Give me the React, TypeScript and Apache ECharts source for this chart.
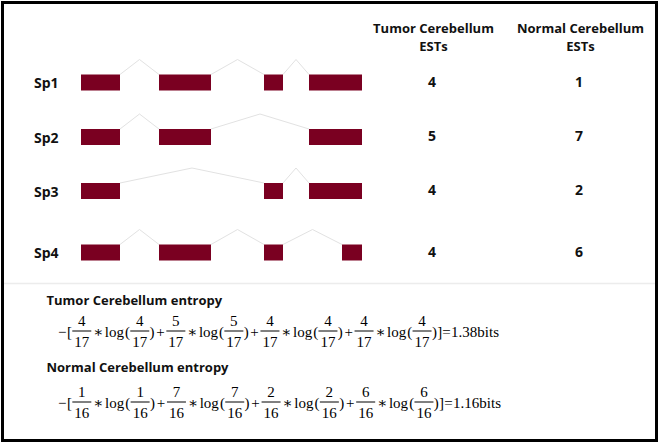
import React, { useEffect, useRef } from "react";
import * as echarts from "echarts";

// ---------- data ----------
const isoforms = ["Sp1", "Sp2", "Sp3", "Sp4"];
const tumorESTs = [4, 5, 4, 4];
const normalESTs = [1, 7, 2, 6];
// exon coordinates (bp) per isoform
const isoformExons: number[][][] = [
  [[0, 390], [780, 1300], [1830, 2020], [2280, 2810]],
  [[0, 390], [780, 1300], [2280, 2810]],
  [[0, 390], [1830, 2020], [2280, 2810]],
  [[0, 390], [780, 1300], [1830, 2020], [2610, 2810]],
];
const geneLength = 2810;
const tumorHeader = ["Tumor Cerebellum", "ESTs"];
const normalHeader = ["Normal Cerebellum", "ESTs"];
const entropyTitles = ["Tumor Cerebellum entropy", "Normal Cerebellum entropy"];

// ---------- layout ----------
const W = 661;
const H = 445;
const ROW_Y = [82.5, 137, 191, 252.5];
const COL_X = [432, 579];
const GENE_LEFT = 81;
const GENE_WIDTH = 281;
const EXON_H = 16;
const PEAK_H = 15;
const EXON_COLOR = "#7a0021";
const INTRON_COLOR = "#e2e2e2";
const SANS = '"Open Sans", "Noto Sans", sans-serif';
const SERIF = '"Liberation Serif", "DejaVu Serif", serif';
const MATH_SIZE = 15;

const measureCtx =
  typeof document !== "undefined"
    ? document.createElement("canvas").getContext("2d")
    : null;
function textW(s: string, font: string) {
  if (!measureCtx) return s.length * 7;
  measureCtx.font = font;
  return measureCtx.measureText(s).width;
}

type Tok = { kind: "t"; s: string } | { kind: "f"; num: string; den: string };

function buildFormula(counts: number[], x0: number, x1: number, barY: number) {
  const total = counts.reduce((a, b) => a + b, 0);
  const ent = -counts.reduce((a, c) => a + (c / total) * Math.log(c / total), 0);
  const font = `${MATH_SIZE}px ${SERIF}`;
  const toks: Tok[] = [{ kind: "t", s: "−" }, { kind: "t", s: "[" }];
  counts.forEach((c, k) => {
    if (k > 0) toks.push({ kind: "t", s: "+" });
    toks.push(
      { kind: "f", num: String(c), den: String(total) },
      { kind: "t", s: "∗" },
      { kind: "t", s: "log" },
      { kind: "t", s: "(" },
      { kind: "f", num: String(c), den: String(total) },
      { kind: "t", s: ")" }
    );
  });
  toks.push({ kind: "t", s: "]" }, { kind: "t", s: "=" }, { kind: "t", s: ent.toFixed(2) + "bits" });

  const widths = toks.map((t) =>
    t.kind === "t" ? textW(t.s, font) : Math.max(textW(t.num, font), textW(t.den, font)) + 4
  );
  const key = (t: Tok) => (t.kind === "t" ? t.s : "#f");
  const gapW = (a: Tok, b: Tok) => {
    const ka = key(a), kb = key(b);
    if (ka === "∗" || kb === "∗" || ka === "+" || kb === "+") return 1;
    if (ka === "log" && kb === "(") return 0.6;
    if (ka === "=" || kb === "=") return 0.15;
    if (ka === "−") return 0.3;
    if (ka === "#f" || kb === "#f") return 0.2;
    if (ka === ")" && kb === "]") return 0.15;
    return 0;
  };
  const gaps: number[] = [];
  for (let i = 0; i < toks.length - 1; i++) gaps.push(gapW(toks[i], toks[i + 1]));
  const natural = widths.reduce((a, b) => a + b, 0);
  const sumG = gaps.reduce((a, b) => a + b, 0);
  const per = Math.max(0, (x1 - x0 - natural) / sumG);

  const els: any[] = [];
  let x = x0;
  toks.forEach((t, i) => {
    const w = widths[i];
    if (t.kind === "t") {
      els.push({
        type: "text",
        style: { text: t.s, x, y: barY + 1, font, fill: "#000", align: "left", verticalAlign: "middle" },
      });
    } else {
      els.push(
        {
          type: "text",
          style: { text: t.num, x: x + w / 2, y: barY - 10, font, fill: "#000", align: "center", verticalAlign: "middle" },
        },
        {
          type: "line",
          shape: { x1: x, y1: barY, x2: x + w, y2: barY },
          style: { stroke: "#000", lineWidth: 1 },
        },
        {
          type: "text",
          style: { text: t.den, x: x + w / 2, y: barY + 11, font, fill: "#000", align: "center", verticalAlign: "middle" },
        }
      );
    }
    x += w + (i < gaps.length ? gaps[i] * per : 0);
  });
  return els;
}

export default function App() {
  const ref = useRef<HTMLDivElement>(null);
  useEffect(() => {
    if (!ref.current) return;
    const chart = echarts.init(ref.current, null, { renderer: "svg" });
    const boldFont = `bold 13px ${SANS}`;
    const rowFont = `bold 14px ${SANS}`;

    const graphics: any[] = [
      {
        type: "rect",
        shape: { x: 2.5, y: 2.5, width: 654, height: 438 },
        style: { fill: "none", stroke: "#000", lineWidth: 3 },
        z: 10,
      },
      {
        type: "line",
        shape: { x1: 4, y1: 283.5, x2: 655, y2: 283.5 },
        style: { stroke: "#ececec", lineWidth: 1.5 },
      },
    ];
    [tumorHeader, normalHeader].forEach((hdr, c) => {
      hdr.forEach((line, k) => {
        graphics.push({
          type: "text",
          style: {
            text: line, x: COL_X[c] + 1.5, y: 28 + k * 18, font: boldFont,
            fill: "#111", align: "center", verticalAlign: "middle",
          },
        });
      });
    });
    const titleY = [300, 367];
    const barY = [331, 402];
    const formulaX = [[58, 499], [58, 501]];
    [tumorESTs, normalESTs].forEach((counts, k) => {
      graphics.push({
        type: "text",
        style: {
          text: entropyTitles[k], x: 46.5, y: titleY[k], font: boldFont, fill: "#111",
          align: "left", verticalAlign: "middle",
        },
      });
      graphics.push(...buildFormula(counts, formulaX[k][0], formulaX[k][1], barY[k]));
    });

    chart.setOption({
      animation: false,
      backgroundColor: "#fff",
      grid: { left: GENE_LEFT, width: GENE_WIDTH, top: 0, height: H },
      xAxis: { type: "value", min: 0, max: geneLength, show: false },
      yAxis: { type: "value", min: 0, max: H, inverse: true, show: false },
      series: [
        {
          type: "custom",
          clip: false,
          data: isoforms.map((_, i) => [i]),
          renderItem: (params: any, api: any) => {
            const i = api.value(0);
            const exons = isoformExons[i];
            const cy = api.coord([0, ROW_Y[i]])[1];
            const top = cy - EXON_H / 2;
            const children: any[] = [];
            for (let e = 0; e < exons.length - 1; e++) {
              const a = api.coord([exons[e][1], ROW_Y[i]])[0];
              const b = api.coord([exons[e + 1][0], ROW_Y[i]])[0];
              children.push({
                type: "polyline",
                shape: { points: [[a, top], [(a + b) / 2, top - PEAK_H], [b, top]] },
                style: { stroke: INTRON_COLOR, lineWidth: 1, fill: "none" },
              });
            }
            exons.forEach(([s, e]) => {
              const xs = api.coord([s, ROW_Y[i]])[0];
              const xe = api.coord([e, ROW_Y[i]])[0];
              children.push({
                type: "rect",
                shape: { x: xs, y: top, width: xe - xs, height: EXON_H },
                style: { fill: EXON_COLOR },
              });
            });
            children.push({
              type: "text",
              style: { text: isoforms[i], x: 34, y: cy, font: rowFont, fill: "#111", align: "left", verticalAlign: "middle" },
            });
            [tumorESTs[i], normalESTs[i]].forEach((v, c) => {
              children.push({
                type: "text",
                style: { text: String(v), x: COL_X[c], y: cy - 1.5, font: rowFont, fill: "#111", align: "center", verticalAlign: "middle" },
              });
            });
            return { type: "group", children };
          },
        },
      ],
      graphic: graphics,
    });
    return () => chart.dispose();
  }, []);
  return (
    <div
      ref={ref}
      style={{ position: "fixed", left: 0, top: 0, width: W, height: H, background: "#fff" }}
    />
  );
}
